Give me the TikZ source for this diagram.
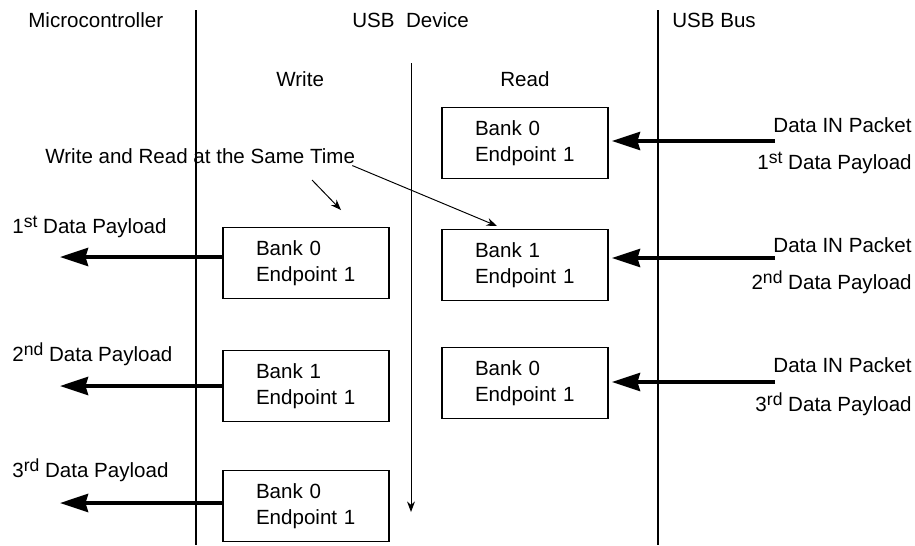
\documentclass[tikz,border=0pt]{standalone}
\usepackage{fontspec}
\setmainfont{Liberation Sans}
\usetikzlibrary{positioning, arrows.meta}

\newcommand{\ordsfx}[1]{\raisebox{0.5ex}{\fontsize{10}{10}\selectfont #1}}

\begin{document}
\begin{tikzpicture}[
    x=0.02cm, y=-0.02cm,
    font=\fontsize{11.7}{14.8}\selectfont,
    bank/.style={
        draw, line width=1.1pt,
        align=left,
        text width=2.0cm,
        inner xsep=0.66cm,
        minimum height=1.42cm
    },
    lane/.style={line width=1.1pt},
    txt/.style={inner sep=0pt},
    bigarrow/.style={-{Stealth[length=0.56cm,width=0.36cm,inset=0.05cm]}, line width=2.3pt},
    thinarrow/.style={-{Stealth[length=6pt,width=4.5pt]}, line width=0.55pt}
]
\useasboundingbox (0,0) rectangle (915,545);

% ===================== LANES =====================
\coordinate (mcTop) at (196,10);
\coordinate (mcBot) at (196,545);
\coordinate (busTop) at (658,10);
\coordinate (busBot) at (658,545);
\coordinate (timeTop) at (411,63);
\coordinate (timeBot) at (411,512);

\draw[lane] (mcTop) -- (mcBot);
\draw[lane] (busTop) -- (busBot);
\draw[thinarrow] (timeTop) -- (timeBot);

% ===================== TITLES =====================
\node[txt, anchor=base west] (mc) at (28,27) {Microcontroller};
\node[txt, anchor=base west] (dev) at (352,27) {USB\ \ Device};
\node[txt, anchor=base west] (bus) at (672,27) {USB Bus};
\node[txt, anchor=base west] (wrt) at (276,86) {Write};
\node[txt, anchor=base west] (rd) at (500,86) {Read};
\node[txt, anchor=base west] (same) at (45,163) {Write and Read at the Same Time};

% ===================== BANKS =====================
\node[bank] (rd1) at (525,143) {Bank 0\\Endpoint 1};
\node[bank] (rd2) at (525,265) {Bank 1\\Endpoint 1};
\node[bank] (rd3) at (525,383) {Bank 0\\Endpoint 1};

\node[bank] (wr1) at (306,263) {Bank 0\\Endpoint 1};
\node[bank] (wr2) at (306,386) {Bank 1\\Endpoint 1};
\node[bank] (wr3) at (306,506) {Bank 0\\Endpoint 1};

% ===================== BUS SIDE =====================
\node[txt, anchor=base east] (pkt1) at (912,132) {Data IN Packet};
\node[txt, anchor=base east] (pay1) at (912,169) {1\ordsfx{st} Data Payload};
\node[txt, anchor=base east] (pkt2) at (912,252) {Data IN Packet};
\node[txt, anchor=base east] (pay2) at (912,289) {2\ordsfx{nd} Data Payload};
\node[txt, anchor=base east] (pkt3) at (912,372) {Data IN Packet};
\node[txt, anchor=base east] (pay3) at (912,411) {3\ordsfx{rd} Data Payload};

\coordinate (in1) at (775,141);
\coordinate (in2) at (775,258);
\coordinate (in3) at (775,382);

\draw[bigarrow, shorten >=0.06cm] (in1) -- (in1 -| rd1.east);
\draw[bigarrow, shorten >=0.06cm] (in2) -- (in2 -| rd2.east);
\draw[bigarrow, shorten >=0.06cm] (in3) -- (in3 -| rd3.east);

% ===================== MICROCONTROLLER SIDE =====================
\node[txt, anchor=base west] (got1) at (12,233) {1\ordsfx{st} Data Payload};
\node[txt, anchor=base west] (got2) at (12,361) {2\ordsfx{nd} Data Payload};
\node[txt, anchor=base west] (got3) at (12,477) {3\ordsfx{rd} Data Payload};

\coordinate (out1) at (60,257);
\coordinate (out2) at (60,386);
\coordinate (out3) at (60,503);

\draw[bigarrow] (out1 -| wr1.west) -- (out1);
\draw[bigarrow] (out2 -| wr2.west) -- (out2);
\draw[bigarrow] (out3 -| wr3.west) -- (out3);

% ===================== SAME TIME POINTERS =====================
\coordinate (toWr) at (341,210);
\coordinate (toRd) at (497,226);
\draw[thinarrow] (312,180) -- (toWr);
\draw[thinarrow] (same.south east) ++(-3,2) -- (toRd);

\end{tikzpicture}
\end{document}
